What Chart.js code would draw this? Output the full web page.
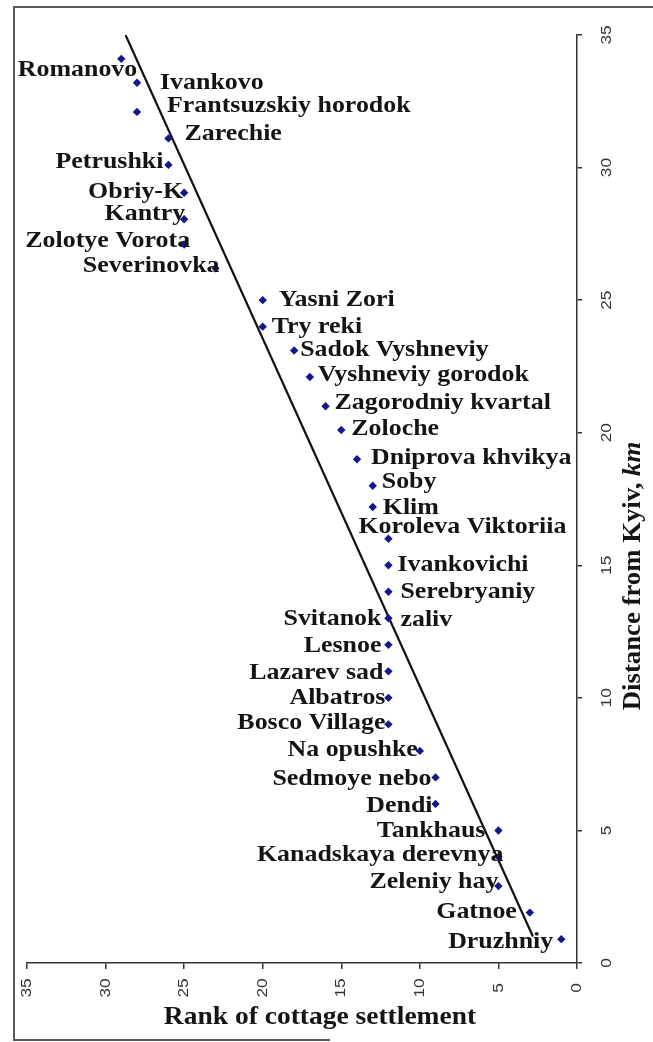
<!DOCTYPE html>
<html><head><meta charset="utf-8">
<script src="https://cdn.jsdelivr.net/npm/chart.js@4/dist/chart.umd.min.js"></script>
<style>html,body{margin:0;padding:0;background:#fff}canvas{display:block}</style>
</head><body>
<canvas id="c" width="653" height="1042"></canvas>
<script>
// ---- data ----
const settlements = ['Romanovo','Ivankovo','Frantsuzskiy horodok','Zarechie','Petrushki','Obriy-K','Kantry','Zolotye Vorota','Severinovka',
  'Yasni Zori','Try reki','Sadok Vyshneviy','Vyshneviy gorodok','Zagorodniy kvartal','Zoloche','Dniprova khvikya','Soby','Klim',
  'Koroleva Viktoriia','Ivankovichi','Serebryaniy\nzaliv','Svitanok','Lesnoe','Lazarev sad','Albatros','Bosco Village','Na opushke',
  'Sedmoye nebo','Dendi','Tankhaus','Kanadskaya derevnya','Zeleniy hay','Gatnoe','Druzhniy'];
const distanceKm = [34.1,33.2,32.1,31.1,30.1,29.05,28.05,27.1,26.2,25,24,23.1,22.1,21,20.1,19,18,17.2,16,15,14,13,12,11,10,9,8,7,6,5,4,2.9,1.9,0.9];
const rankValues = [29,28,28,26,26,25,25,25,23,20,20,18,17,16,15,14,13,13,12,12,12,12,12,12,12,12,10,9,9,5,5,5,3,1];
const rankTicks = [0,5,10,15,20,25,30,35];
const distanceTicks = [0,5,10,15,20,25,30,35];
const xTitle = 'Rank of cottage settlement';
const yTitleMain = 'Distance from Kyiv, ';
const yTitleUnit = 'km';
const trendRange = [1, 35];

// ---- label placement (style: align, dx, dy in px) ----
const labelPlacement = [
  ['right',16,11],['left',23,0],['left',30,-6],['left',16,-5],['right',-5,-3],['right',-1,-1],['right',1,-5],['right',6,-4],['right',4,-3],
  ['left',16,0],['left',9,0],['left',6,-1],['left',8,-2],['left',9,-3],['left',10,-1],['left',14,-1.5],['left',9,-4],['left',10,1],
  ['left',-30,-12],['left',9,0],['left',12,0],['right',-7,0],['right',-7,1],['right',-5,1],['right',-3,0],['right',-3,-2],['right',-2,-1],
  ['right',-4,1],['right',-3,2],['right',-13,0],['right',5,-2],['right',0,-4],['right',-13,-1],['right',-8,2.6]
];

const points = settlements.map((s,i)=>({x: rankValues[i], y: distanceKm[i]}));
// linear trend (rank as a function of distance)
const n = distanceKm.length;
const md = distanceKm.reduce((a,b)=>a+b,0)/n;
const mr = rankValues.reduce((a,b)=>a+b,0)/n;
let sxy=0, sdd=0;
for (let i=0;i<n;i++){ sxy += (distanceKm[i]-md)*(rankValues[i]-mr); sdd += (distanceKm[i]-md)**2; }
const slope = sxy/sdd, icpt = mr - slope*md;
const trend = trendRange.map(d => ({x: icpt + slope*d, y: d}));

const SERIF = '"Liberation Serif","Times New Roman",serif';
const SANS = '"Liberation Sans",Arial,sans-serif';

const decor = {
  id:'decor',
  beforeDraw(chart){
    const c = chart.ctx; c.save(); c.fillStyle='#fff'; c.fillRect(0,0,chart.width,chart.height); c.restore();
  },
  afterDraw(chart){
    const c = chart.ctx;
    const xs = chart.scales.x, ys = chart.scales.y;
    // frame
    c.save();
    c.strokeStyle='#5a5a5a'; c.lineWidth=2;
    c.beginPath(); c.moveTo(653,7); c.lineTo(14,7); c.lineTo(14,1040); c.lineTo(330,1040); c.stroke();
    c.restore();
    // data labels
    const meta = chart.getDatasetMeta(0);
    c.save();
    c.fillStyle='#141414';
    c.font = 'bold 24px ' + SERIF;
    c.textBaseline='middle';
    meta.data.forEach((el,i)=>{
      const [al,dx,dy] = labelPlacement[i];
      const lines = settlements[i].split('\n');
      lines.forEach((ln,k)=>{
        c.save();
        c.translate(el.x+dx, el.y+dy+k*28);
        c.scale(1.08,1);
        c.textAlign = al;
        c.fillText(ln,0,0);
        c.restore();
      });
    });
    c.restore();
    // tick labels
    c.save();
    c.fillStyle='#333'; c.font='15px '+SANS; c.textAlign='center'; c.textBaseline='middle';
    rankTicks.forEach(v=>{
      const px = xs.getPixelForValue(v);
      c.save(); c.translate(px, 988); c.rotate(-Math.PI/2); c.scale(1.15,1); c.fillText(String(v),0,0); c.restore();
    });
    distanceTicks.forEach(v=>{
      const py = ys.getPixelForValue(v);
      c.save(); c.translate(607, py); c.rotate(-Math.PI/2); c.scale(1.15,1); c.fillText(String(v),0,0); c.restore();
    });
    c.restore();
    // axis titles
    c.save();
    c.fillStyle='#141414'; c.textBaseline='middle';
    c.font='bold 25px '+SERIF; c.textAlign='center';
    c.save(); c.translate(320,1018); c.scale(1.1,1); c.fillText(xTitle,0,0); c.restore();
    c.save(); c.translate(634,576); c.rotate(-Math.PI/2); c.scale(1.07,1);
    c.font='bold 25px '+SERIF; const w1 = c.measureText(yTitleMain).width;
    c.font='italic bold 25px '+SERIF; const w2 = c.measureText(yTitleUnit).width;
    c.textAlign='left';
    let x0 = -(w1+w2)/2;
    c.font='bold 25px '+SERIF; c.fillText(yTitleMain,x0,0);
    c.font='italic bold 25px '+SERIF; c.fillText(yTitleUnit,x0+w1,0);
    c.restore();
    c.restore();
  }
};

new Chart(document.getElementById('c').getContext('2d'), {
  type:'scatter',
  data:{ datasets:[
    { data: points, pointStyle:'rectRot', pointRadius:4.2, pointHoverRadius:4.2,
      backgroundColor:'#16168a', borderColor:'#16168a', borderWidth:0, order:0 },
    { type:'line', data: trend, borderColor:'#111', borderWidth:2.2, pointRadius:0, fill:false, order:1 }
  ]},
  options:{
    responsive:false, animation:false, devicePixelRatio:1,
    layout:{padding:{left:27, top:35, right:0, bottom:0}},
    plugins:{legend:{display:false}, tooltip:{enabled:false}},
    scales:{
      x:{ type:'linear', position:'bottom', reverse:true, min:0, max:35,
        afterBuildTicks: s => { s.ticks = rankTicks.map(v=>({value:v})); },
        afterFit: s => { s.height = 79; },
        ticks:{display:false},
        grid:{drawOnChartArea:false, drawTicks:true, tickLength:6, color:'#333', lineWidth:1.5},
        border:{display:true, color:'#333', width:1.5}
      },
      y:{ type:'linear', position:'right', min:0, max:35,
        afterBuildTicks: s => { s.ticks = distanceTicks.map(v=>({value:v})); },
        afterFit: s => { s.width = 76; },
        ticks:{display:false},
        grid:{drawOnChartArea:false, drawTicks:true, tickLength:5, color:'#333', lineWidth:1.5},
        border:{display:true, color:'#333', width:1.5}
      }
    }
  },
  plugins:[decor]
});
</script>
</body></html>
